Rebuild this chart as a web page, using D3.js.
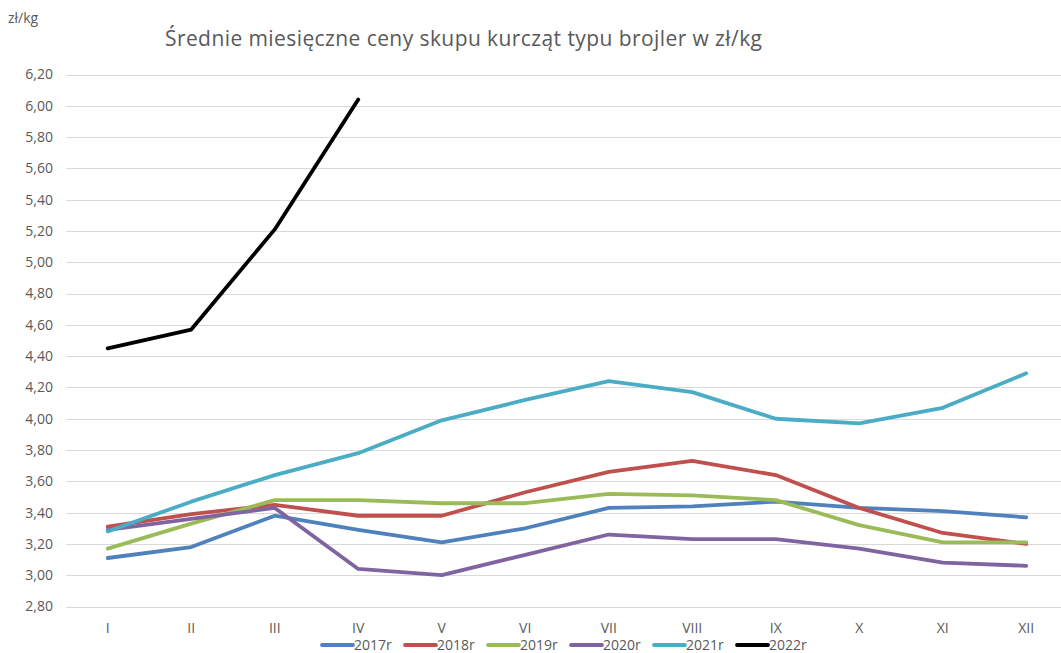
<html>
<head>
<meta charset="UTF-8">
<style>
  body { margin: 0; background: #fff; }
  text { font-family: "Open Sans", "Noto Sans", sans-serif; fill: #595959; }
  .grid line { stroke: #d9d9d9; stroke-width: 1; shape-rendering: crispEdges; }
  .grid path { display: none; }
</style>
<script src="https://cdn.jsdelivr.net/npm/d3@7"></script>
</head>
<body>
<div class="chart"></div>
<script>

var months = ["I", "II", "III", "IV", "V", "VI", "VII", "VIII", "IX", "X", "XI", "XII"];
var years = ["2017r", "2018r", "2019r", "2020r", "2021r", "2022r"];
var colors = ["#4f81bd", "#c0504d", "#9bbb59", "#8064a2", "#4bacc6", "#000000"];

var v2017 = [3.11, 3.18, 3.38, 3.29, 3.21, 3.30, 3.43, 3.44, 3.47, 3.43, 3.41, 3.37];
var v2018 = [3.31, 3.39, 3.45, 3.38, 3.38, 3.53, 3.66, 3.73, 3.64, 3.43, 3.27, 3.20];
var v2019 = [3.17, 3.33, 3.48, 3.48, 3.46, 3.46, 3.52, 3.51, 3.48, 3.32, 3.21, 3.21];
var v2020 = [3.29, 3.36, 3.43, 3.04, 3.00, 3.13, 3.26, 3.23, 3.23, 3.17, 3.08, 3.06];
var v2021 = [3.28, 3.47, 3.64, 3.78, 3.99, 4.12, 4.24, 4.17, 4.00, 3.97, 4.07, 4.29];
var v2022 = [4.45, 4.57, 5.21, 6.04];

var series = [v2017, v2018, v2019, v2020, v2021, v2022];
var yTicks = d3.range(2.8, 6.21, 0.2);

var margin = {top: 74.5, right: -7, bottom: 46.5, left: 66},
    width = 1061 - margin.left - margin.right,
    height = 653 - margin.top - margin.bottom;

var svg = d3.select(".chart").append("svg")
    .attr("width", 1061)
    .attr("height", 653);

var g = svg.append("g")
    .attr("transform", "translate(" + margin.left + "," + margin.top + ")");

var x = d3.scalePoint().domain(months).range([0, width]).padding(0.5);
var y = d3.scaleLinear().domain([2.8, 6.2]).range([height, 0]);

// gridlines
g.append("g")
    .attr("class", "grid")
    .call(d3.axisLeft(y).tickValues(yTicks).tickSize(-width).tickFormat(""));

// y labels
g.selectAll(".ylab")
    .data(yTicks)
  .enter().append("text")
    .attr("x", -13)
    .attr("y", function(d) { return y(d); })
    .attr("dy", "0.35em")
    .style("text-anchor", "end")
    .style("font-size", "14px")
    .text(function(d) { return d3.format(".2f")(d).replace(".", ","); });

// x labels
g.selectAll(".xlab")
    .data(months)
  .enter().append("text")
    .attr("x", function(d) { return x(d); })
    .attr("y", height + 26)
    .style("text-anchor", "middle")
    .style("font-size", "14px")
    .text(function(d) { return d; });

var line = d3.line()
    .x(function(d, i) { return x(months[i]); })
    .y(function(d) { return y(d); });

g.selectAll(".series")
    .data(series)
  .enter().append("path")
    .attr("fill", "none")
    .attr("stroke", function(d, i) { return colors[i]; })
    .attr("stroke-width", 3.8)
    .attr("stroke-linejoin", "round")
    .attr("stroke-linecap", "round")
    .attr("d", line);

// legend
var legend = svg.selectAll(".legend")
    .data(years)
  .enter().append("g")
    .attr("transform", function(d, i) { return "translate(" + (322 + i * 83) + ",645)"; });

legend.append("line")
    .attr("x1", 0).attr("x2", 31)
    .attr("stroke", function(d, i) { return colors[i]; })
    .attr("stroke-width", 3.8)
    .attr("stroke-linecap", "round");

legend.append("text")
    .attr("x", 32)
    .attr("dy", "0.35em")
    .style("font-size", "14px")
    .text(function(d) { return d; });

svg.append("text")
    .attr("x", 165)
    .attr("y", 46)
    .attr("textLength", 597)
    .attr("lengthAdjust", "spacing")
    .style("font-size", "21px")
    .text("Średnie miesięczne ceny skupu kurcząt typu brojler w zł/kg");

svg.append("text")
    .attr("x", 8)
    .attr("y", 23)
    .style("font-size", "14px")
    .text("zł/kg");
</script>
</body>
</html>
